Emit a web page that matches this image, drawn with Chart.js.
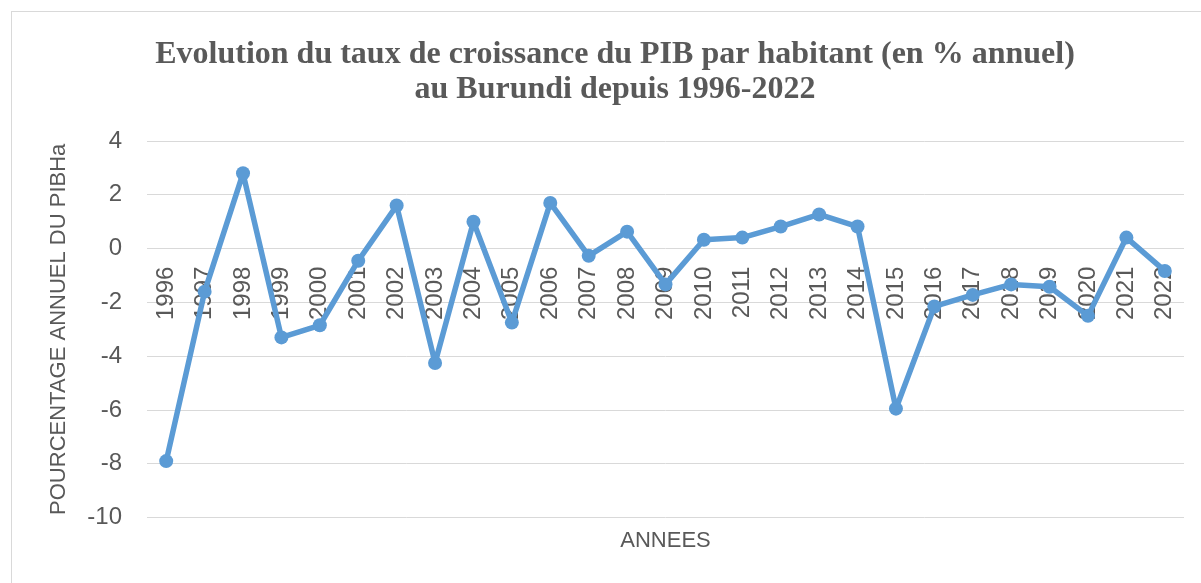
<!DOCTYPE html>
<html lang="fr">
<head>
<meta charset="utf-8">
<title>PIB par habitant Burundi</title>
<script src="https://cdn.jsdelivr.net/npm/chart.js@4/dist/chart.umd.min.js"></script>
<style>
  html, body { margin: 0; padding: 0; background: #fff; overflow: hidden; }
  .frame {
    position: absolute; left: 11px; top: 11px;
    width: 1300px; height: 620px;
    border: 1px solid #d9d9d9;
  }
  .wrap { position: absolute; left: 0; top: 0; width: 1224px; height: 583px; }
</style>
</head>
<body>
<div class="frame"></div>
<div class="wrap"><canvas id="gdpChart"></canvas></div>
<script>
// ---------- data ----------
const years = [
  "1996", "1997", "1998", "1999", "2000", "2001", "2002", "2003", "2004",
  "2005", "2006", "2007", "2008", "2009", "2010", "2011", "2012", "2013",
  "2014", "2015", "2016", "2017", "2018", "2019", "2020", "2021", "2022"
];
const growthPerCapita = [
  -7.9, -1.6, 2.8, -3.3, -2.85, -0.45, 1.6, -4.25, 1.0,
  -2.75, 1.7, -0.27, 0.63, -1.33, 0.33, 0.41, 0.82, 1.27,
  0.82, -5.95, -2.15, -1.72, -1.33, -1.42, -2.5, 0.41, -0.83
];
const yMin = -10;
const yMax = 4;
const yStep = 2;

const titleLines = [
  "Evolution du taux de croissance du PIB par habitant (en % annuel)",
  "au Burundi depuis 1996-2022"
];

// ---------- styles ----------
const blue = "#5B9BD5";
const textGrey = "#595959";
const gridGrey = "#D9D9D9";
const sans = "'Liberation Sans', Arial, sans-serif";

const ctx = document.getElementById("gdpChart").getContext("2d");
new Chart(ctx, {
  type: "line",
  data: {
    labels: years,
    datasets: [
      {
        label: "PIBHa",
        data: growthPerCapita,
        borderColor: blue,
        backgroundColor: blue,
        borderWidth: 5.5,
        borderJoinStyle: "round",
        borderCapStyle: "round",
        pointRadius: 7,
        pointBorderWidth: 0,
        pointBackgroundColor: blue,
        tension: 0,
        fill: false
      }
    ]
  },
  options: {
    responsive: true,
    maintainAspectRatio: false,
    animation: false,
    layout: { padding: { left: 46, right: 40, top: 0, bottom: 0 } },
    plugins: {
      legend: { display: false },
      tooltip: { enabled: false },
      title: {
        display: true,
        text: titleLines,
        color: textGrey,
        font: { family: "'Liberation Serif', 'Times New Roman', serif", size: 32, weight: "bold", lineHeight: 1.094 },
        padding: { top: 37, bottom: 34 }
      },
      subtitle: {
        display: true,
        position: "bottom",
        fullSize: false,
        text: "ANNEES",
        color: textGrey,
        font: { family: sans, size: 22, weight: "normal", lineHeight: 1.2 },
        padding: { top: 10, bottom: 29 }
      }
    },
    scales: {
      x: {
        position: { y: 0 },
        z: 1,
        offset: true,
        grid: { display: false, drawTicks: false },
        border: { display: false },
        ticks: {
          autoSkip: false,
          minRotation: 90,
          maxRotation: 90,
          padding: 18,
          color: textGrey,
          font: { family: sans, size: 24 }
        }
      },
      y: {
        min: yMin,
        max: yMax,
        grid: { color: gridGrey, lineWidth: 1, drawTicks: false },
        border: { display: false },
        ticks: {
          stepSize: yStep,
          padding: 25,
          color: textGrey,
          font: { family: sans, size: 24 }
        },
        title: {
          display: true,
          text: "POURCENTAGE ANNUEL DU PIBHa",
          color: textGrey,
          font: { family: sans, size: 22 },
          padding: 0
        },
        afterFit: (scale) => {
          scale.width = 101;
        }
      }
    }
  }
});
</script>
</body>
</html>
